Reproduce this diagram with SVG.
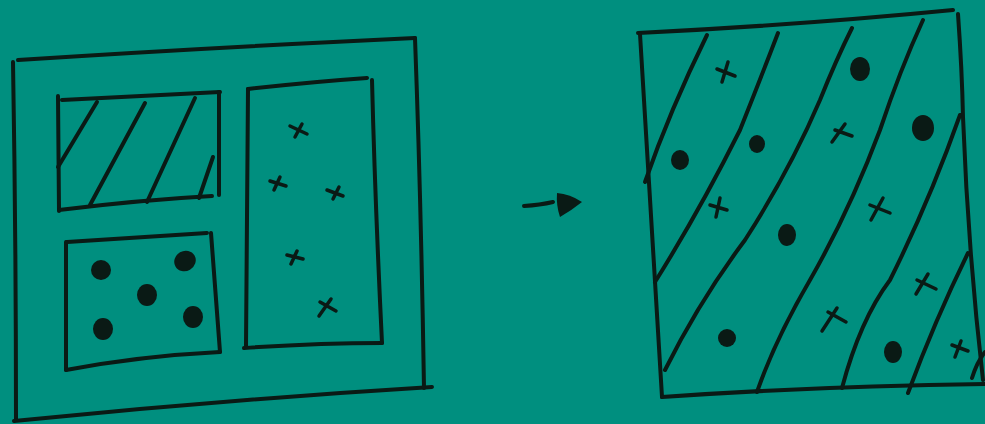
<svg xmlns="http://www.w3.org/2000/svg" width="985" height="424" viewBox="0 0 985 424">
<style>
.s{fill:none;stroke:#0a1a15;stroke-width:4;stroke-linecap:round;stroke-linejoin:round}
.t{fill:none;stroke:#0a1a15;stroke-width:3.5;stroke-linecap:round}
.d{fill:#0a1a15}
</style>
<rect width="985" height="424" fill="#008f7f"/>
<g id="left">
<path class="s" d="M18 60 Q200 48 415 38"/>
<path class="s" d="M13 62 Q16 240 16 420"/>
<path class="s" d="M14 421 Q220 400 432 387"/>
<path class="s" d="M415 38 Q421 200 424 388"/>
<!-- hatched box -->
<path class="s" d="M62 100 L220 92"/>
<path class="s" d="M58 96 L59 211"/>
<path class="s" d="M59 210 Q140 200 212 196"/>
<path class="s" d="M219 92 L219 195"/>
<path class="s" d="M97 102 L58 167"/>
<path class="s" d="M145 103 L90 205"/>
<path class="s" d="M195 98 L147 202"/>
<path class="s" d="M213 157 L199 198"/>
<!-- dots box -->
<path class="s" d="M67 242 L207 233"/>
<path class="s" d="M66 242 L66 370"/>
<path class="s" d="M66 370 Q140 356 220 352"/>
<path class="s" d="M211 233 L220 352"/>
<ellipse class="d" cx="101" cy="270" rx="10" ry="10"/>
<ellipse class="d" cx="185" cy="261" rx="11" ry="10" transform="rotate(-30 185 261)"/>
<ellipse class="d" cx="147" cy="295" rx="10" ry="11"/>
<ellipse class="d" cx="103" cy="329" rx="10" ry="11"/>
<ellipse class="d" cx="193" cy="317" rx="10" ry="11"/>
<!-- cross box -->
<path class="s" d="M248 89 Q310 82 367 78"/>
<path class="s" d="M248 89 L246 346"/>
<path class="s" d="M244 348 Q320 343 382 343"/>
<path class="s" d="M372 80 Q375 200 382 343"/>
<g class="t">
<path d="M290 126 L307 134 M295 137 L302 124"/>
<path d="M270 181 L286 186 M274 190 L280 177"/>
<path d="M327 190 L343 196 M333 199 L339 187"/>
<path d="M287 255 L303 259 M291 264 L297 251"/>
<path d="M320 302 L336 311 M319 316 L331 299"/>
</g>
</g>
<g id="arrow">
<path class="s" d="M524 206 Q540 205 553 202" stroke-width="5"/>
<path class="d" d="M557 193 Q570 194 582 202 Q572 210 560 217 Q556 205 557 193 Z"/>
</g>
<g id="right">
<path class="s" d="M638 33 Q800 25 953 10"/>
<path class="s" d="M640 34 Q650 200 662 397"/>
<path class="s" d="M662 397 Q820 386 985 384"/>
<path class="s" d="M958 14 Q962 70 963 117 Q968 250 983 380"/>
<path class="s" d="M645 182 Q670 110 707 35"/>
<path class="s" d="M655 282 Q700 210 740 130 Q760 80 778 33"/>
<path class="s" d="M665 370 Q700 300 745 240 Q790 170 820 100 Q836 60 852 28"/>
<path class="s" d="M757 392 Q775 340 810 280 Q850 210 880 130 Q900 70 923 20"/>
<path class="s" d="M842 388 Q860 320 890 280 Q930 200 960 115"/>
<path class="s" d="M908 393 Q935 320 968 253"/>
<path class="s" d="M972 378 Q977 362 985 352"/>
<ellipse class="d" cx="860" cy="69" rx="10" ry="12"/>
<ellipse class="d" cx="680" cy="160" rx="9" ry="10"/>
<ellipse class="d" cx="757" cy="144" rx="8" ry="9"/>
<ellipse class="d" cx="923" cy="128" rx="11" ry="13"/>
<ellipse class="d" cx="787" cy="235" rx="9" ry="11"/>
<ellipse class="d" cx="727" cy="338" rx="9" ry="9"/>
<ellipse class="d" cx="893" cy="352" rx="9" ry="11"/>
<g class="t">
<path d="M717 69 L735 76 M722 82 L728 62"/>
<path d="M835 130 L852 136 M832 142 L845 124"/>
<path d="M710 205 L727 210 M716 217 L720 198"/>
<path d="M870 205 L890 213 M871 220 L883 198"/>
<path d="M917 280 L936 289 M916 294 L928 274"/>
<path d="M828 312 L846 322 M822 331 L837 308"/>
<path d="M952 345 L968 351 M955 357 L961 341"/>
</g>
</g>
</svg>
